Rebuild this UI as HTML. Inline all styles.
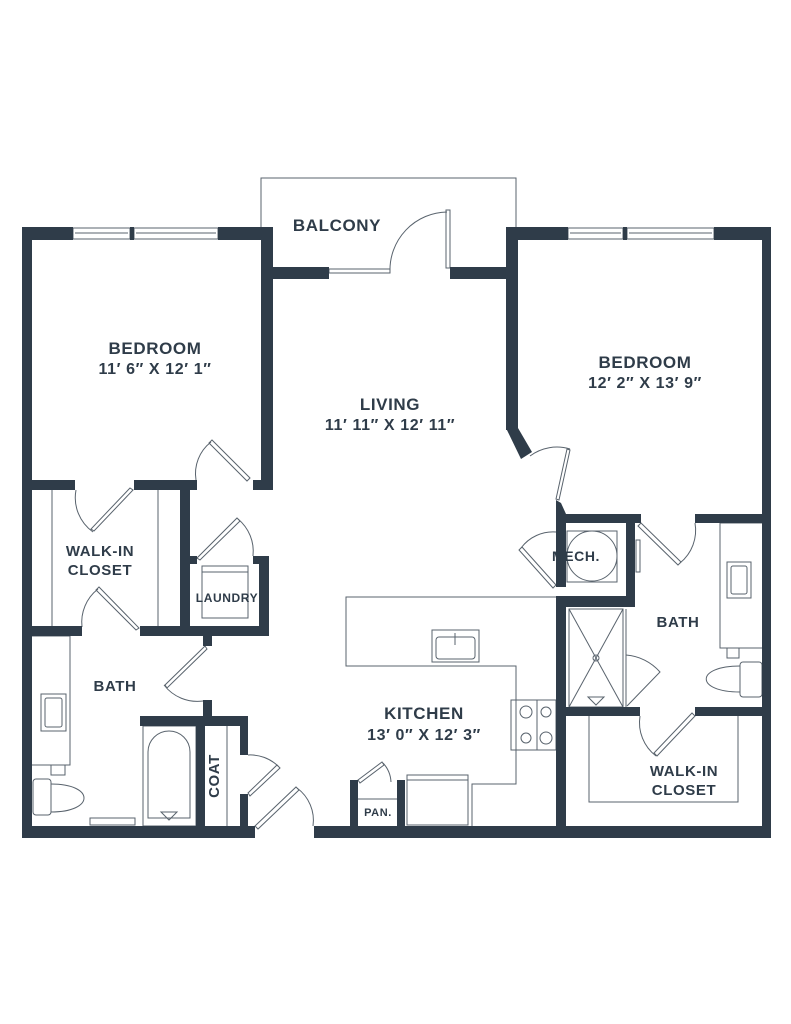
<!DOCTYPE html>
<html><head><meta charset="utf-8"><style>
html,body{margin:0;padding:0;background:#fff;}
svg{display:block}
text{font-family:"Liberation Sans",sans-serif;font-weight:bold;fill:#2f3c49;text-anchor:middle;letter-spacing:0.6px}
</style></head><body>
<svg width="791" height="1024" viewBox="0 0 791 1024" xmlns="http://www.w3.org/2000/svg">
<g fill="none" stroke="#59636d" stroke-width="1">
<polyline points="261,227 261,178 516,178 516,227"/>
<rect x="73" y="228" width="57" height="11"/><rect x="134" y="228" width="84" height="11"/>
<line x1="75" y1="233" x2="128" y2="233"/><line x1="136" y1="233" x2="216" y2="233"/>
<rect x="568" y="228" width="55" height="11"/><rect x="627" y="228" width="87" height="11"/>
<line x1="570" y1="233" x2="621" y2="233"/><line x1="629" y1="233" x2="712" y2="233"/>
<rect x="329" y="269" width="61" height="4"/>
<path d="M390,272 A58,58 0 0 1 447,212"/>
<rect x="446" y="210" width="4" height="58"/>
<path d="M250,478 L212,440 L209,443 L247,481 Z"/>
<path d="M211,442 A40,40 0 0 0 196,480"/>
<line x1="52" y1="490" x2="52" y2="627"/><line x1="158" y1="490" x2="158" y2="627"/>
<path d="M133,490 L94,531 L91,529 L130,488 Z"/>
<path d="M76,490 A42,42 0 0 0 93,532"/>
<path d="M99,587 L139,628 L136,630 L96,590 Z"/>
<path d="M98,589 A42,42 0 0 0 82,627"/>
<path d="M197,558 L237,518 L240,521 L200,560 Z"/>
<path d="M238,519 A42,42 0 0 1 253,556"/>
<rect x="202" y="566" width="46" height="52"/><line x1="202" y1="572" x2="248" y2="572"/>
<path d="M205,646 L165,685 L167,688 L207,649 Z"/>
<path d="M164,685 A42,42 0 0 0 203,701"/>
<polyline points="31,636 70,636 70,765 31,765"/>
<rect x="41" y="694" width="25" height="37"/>
<rect x="51" y="765" width="14" height="10"/>
<rect x="33" y="779" width="18" height="36" rx="3"/>
<path d="M51,784 C95,784 95,812 51,812"/>
<rect x="90" y="818" width="45" height="7"/>
<rect x="143" y="726" width="53" height="100"/>
<path d="M148,818 L148,752 A21,21 0 0 1 190,752 L190,818 Z"/>
<path d="M161,812 L177,812 L169,820 Z"/>
<line x1="227" y1="726" x2="227" y2="826"/>
<path d="M248,793 L277,765 L280,768 L250,796 Z"/>
<path d="M248,755 A40,40 0 0 1 278,766"/>
<path d="M255,826 L296,787 L299,790 L258,829 Z"/>
<path d="M297,788 A40,40 0 0 1 313,826"/>
<path d="M358,780 L382,762 L384,765 L360,783 Z"/>
<path d="M383,763 A30,30 0 0 1 391,782"/>
<line x1="358" y1="799" x2="398" y2="799"/>
<polyline points="556,597 346,597 346,666 516,666 516,784 472,784 472,826"/>
<rect x="432" y="630" width="47" height="32"/><rect x="436" y="637" width="39" height="22" rx="3"/>
<line x1="455" y1="633" x2="455" y2="645"/>
<rect x="511" y="700" width="45" height="50"/><line x1="537" y1="700" x2="537" y2="750"/>
<circle cx="526" cy="712" r="6"/><circle cx="546" cy="712" r="5"/>
<circle cx="526" cy="738" r="5"/><circle cx="546" cy="738" r="6"/>
<rect x="407" y="775" width="61" height="50"/><line x1="407" y1="780" x2="468" y2="780"/>
<path d="M570,450 L559,500 L556,499 L567,449 Z"/>
<path d="M530,456 A45,45 0 0 1 570,449"/>
<path d="M556,585 L522,547 L519,550 L553,588 Z"/>
<path d="M521,548 A40,40 0 0 1 556,532"/>
<rect x="567" y="531" width="50" height="51"/>
<circle cx="592" cy="556" r="25"/>
<rect x="636" y="540" width="4" height="32"/>
<path d="M641,523 L681,562 L678,565 L638,526 Z"/>
<path d="M680,563 A42,42 0 0 0 695,523"/>
<polyline points="762,523 720,523 720,648 762,648"/>
<rect x="727" y="562" width="24" height="36"/>
<rect x="731" y="566" width="16" height="28" rx="2"/>
<rect x="727" y="648" width="12" height="10"/>
<rect x="740" y="662" width="22" height="35" rx="3"/>
<path d="M740,666 C695,666 695,692 740,692"/>
<rect x="569" y="609" width="54" height="98"/>
<line x1="569" y1="609" x2="623" y2="707"/><line x1="623" y1="609" x2="569" y2="707"/>
<circle cx="596" cy="658" r="3"/>
<path d="M588,697 L604,697 L596,705 Z"/>
<line x1="626" y1="609" x2="626" y2="707"/>
<path d="M626,655 A50,50 0 0 1 660,672 L627,706"/>
<path d="M695,716 L657,756 L654,753 L692,713 Z"/>
<path d="M640,716 A42,42 0 0 0 656,756"/>
<polyline points="589,716 589,802 738,802 738,716"/>
<rect x="45" y="698" width="17" height="29" rx="2"/>
</g>
<g fill="#2f3c49">
<rect x="22" y="227" width="51" height="13"/>
<rect x="130" y="227" width="4" height="13"/>
<rect x="218" y="227" width="55" height="13"/>
<rect x="22" y="227" width="10" height="611"/>
<rect x="261" y="227" width="12" height="263"/>
<rect x="273" y="267" width="56" height="12"/>
<rect x="450" y="267" width="56" height="12"/>
<rect x="22" y="480" width="53" height="10"/>
<rect x="134" y="480" width="63" height="10"/>
<rect x="253" y="480" width="20" height="10"/>
<rect x="180" y="480" width="10" height="156"/>
<rect x="190" y="556" width="7" height="8"/>
<rect x="253" y="556" width="16" height="8"/>
<rect x="259" y="556" width="10" height="80"/>
<rect x="22" y="626" width="60" height="10"/>
<rect x="140" y="626" width="129" height="10"/>
<rect x="203" y="636" width="9" height="10"/>
<rect x="203" y="700" width="9" height="17"/>
<rect x="140" y="716" width="108" height="10"/>
<rect x="196" y="716" width="9" height="110"/>
<rect x="240" y="716" width="8" height="39"/>
<rect x="240" y="794" width="8" height="32"/>
<rect x="22" y="826" width="233" height="12"/>
<rect x="314" y="826" width="457" height="12"/>
<rect x="350" y="780" width="8" height="46"/>
<rect x="397" y="780" width="8" height="46"/>
<rect x="506" y="227" width="62" height="13"/>
<rect x="623" y="227" width="4" height="13"/>
<rect x="714" y="227" width="57" height="13"/>
<rect x="762" y="227" width="9" height="611"/>
<rect x="506" y="227" width="12" height="203"/>
<polygon points="506,428 518,428 532,452 521,459"/>
<polygon points="556,500 561,503 566,514 556,514"/>
<rect x="556" y="514" width="10" height="73"/>
<rect x="556" y="596" width="10" height="242"/>
<rect x="556" y="514" width="85" height="9"/>
<rect x="626" y="514" width="9" height="93"/>
<rect x="556" y="596" width="79" height="11"/>
<rect x="695" y="514" width="76" height="9"/>
<rect x="566" y="707" width="74" height="9"/>
<rect x="695" y="707" width="76" height="9"/>
</g>
<text x="337" y="231" font-size="17">BALCONY</text>
<text x="155" y="354" font-size="17">BEDROOM</text>
<text x="155" y="374" font-size="16">11′ 6″ X 12′ 1″</text>
<text x="390" y="410" font-size="17">LIVING</text>
<text x="390" y="430" font-size="16">11′ 11″ X 12′ 11″</text>
<text x="645" y="368" font-size="17">BEDROOM</text>
<text x="645" y="388" font-size="16">12′ 2″ X 13′ 9″</text>
<text x="100" y="556" font-size="15">WALK-IN</text>
<text x="100" y="575" font-size="15">CLOSET</text>
<text x="227" y="602" font-size="12">LAUNDRY</text>
<text x="115" y="691" font-size="15">BATH</text>
<text x="424" y="719" font-size="17">KITCHEN</text>
<text x="424" y="740" font-size="16">13′ 0″ X 12′ 3″</text>
<text x="378" y="816" font-size="11">PAN.</text>
<text transform="translate(219,776) rotate(-90)" font-size="15">COAT</text>
<text x="576" y="561" font-size="14">MECH.</text>
<text x="678" y="627" font-size="15">BATH</text>
<text x="684" y="776" font-size="15">WALK-IN</text>
<text x="684" y="795" font-size="15">CLOSET</text>
</svg>
</body></html>
